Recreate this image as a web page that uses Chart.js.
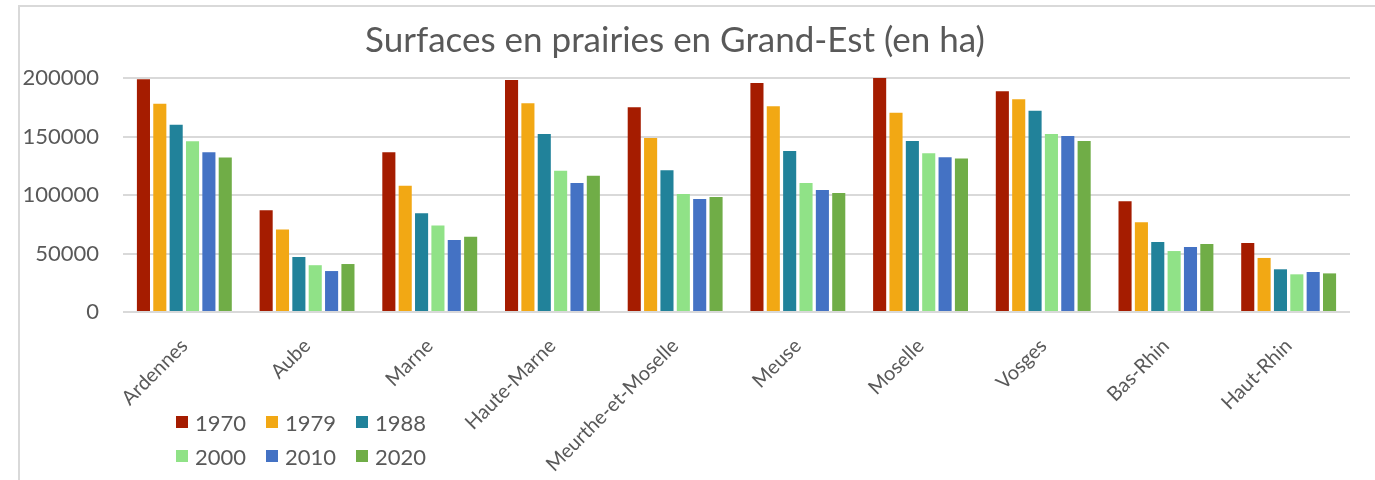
<!DOCTYPE html>
<html>
<head>
<meta charset="utf-8">
<script src="https://cdn.jsdelivr.net/npm/chart.js@4"></script>
<style>
  html, body { margin: 0; padding: 0; background: #fff; }
  #wrap { position: relative; width: 1375px; height: 480px; overflow: hidden; }
  #frame { position: absolute; left: 18px; top: 5px; width: 1400px; height: 500px;
           border-left: 2px solid #d9d9d9; border-top: 2px solid #d9d9d9; }
  #chart { position: absolute; left: 0; top: 0; }
  #legend { position: absolute; left: 176px; top: 410px; width: 280px;
            font-family: Lato, sans-serif; font-size: 22px; color: #595959; }
  .item { position: absolute; display: flex; align-items: center; height: 24px; }
  .item span.box { width: 12px; height: 12px; margin-right: 7px; }
</style>
</head>
<body>
<div id="wrap">
  <div id="frame"></div>
  <canvas id="chart" width="1375" height="480"></canvas>
  <div id="legend"></div>
</div>
<script>
// Départements
const departements = ['Ardennes', 'Aube', 'Marne', 'Haute-Marne', 'Meurthe-et-Moselle',
  'Meuse', 'Moselle', 'Vosges', 'Bas-Rhin', 'Haut-Rhin'];

// Surfaces en prairies (ha) par année
const annees = ['1970', '1979', '1988', '2000', '2010', '2020'];
const v1970 = [199000, 87000, 136500, 198300, 175000, 195700, 200000, 188600, 94600, 59000];
const v1979 = [178000, 70500, 108000, 178400, 148700, 175800, 170400, 181800, 76700, 46200];
const v1988 = [160000, 47000, 84500, 152100, 121100, 137600, 146200, 172100, 59800, 36500];
const v2000 = [146000, 40000, 74000, 120800, 100900, 110300, 135600, 152100, 52100, 32200];
const v2010 = [136500, 35000, 61500, 110300, 96600, 104300, 132200, 150400, 55600, 34200];
const v2020 = [132000, 41000, 64400, 116500, 98300, 101700, 131300, 146200, 58100, 33000];

const couleurs = ['#a51c00', '#f2a814', '#21829a', '#90e287', '#4472c4', '#70ad47'];
const series = [v1970, v1979, v1988, v2000, v2010, v2020];

const gris = '#595959';

const chart = new Chart(document.getElementById('chart'), {
  type: 'bar',
  data: {
    labels: departements,
    datasets: annees.map((a, i) => ({
      label: a,
      data: series[i],
      backgroundColor: couleurs[i],
      borderWidth: 0,
      categoryPercentage: 0.8,
      barPercentage: 0.8
    }))
  },
  options: {
    responsive: false,
    animation: false,
    layout: { padding: { top: 20, right: 25, left: 0, bottom: 0 } },
    plugins: {
      legend: { display: false },
      tooltip: { enabled: false },
      title: {
        display: true,
        text: 'Surfaces en prairies en Grand-Est (en ha)',
        color: gris,
        font: { family: 'Lato', size: 35, weight: 'normal' },
        padding: { top: 0, bottom: 16 }
      }
    },
    scales: {
      x: {
        grid: { display: false },
        border: { display: false },
        ticks: {
          color: gris,
          font: { family: 'Lato', size: 20 },
          minRotation: 45,
          maxRotation: 45,
          padding: 14
        },
        afterFit: s => { s.height = 168; }
      },
      y: {
        min: 0,
        max: 200000,
        border: { display: false },
        grid: { color: '#d9d9d9', lineWidth: 2, drawTicks: false },
        ticks: {
          stepSize: 50000,
          color: gris,
          font: { family: 'Lato', size: 22 },
          padding: 24,
          callback: v => String(v)
        },
        afterFit: s => { s.width = 123; }
      }
    }
  }
});

// Légende en deux lignes sous le graphique
const leg = document.getElementById('legend');
chart.data.datasets.forEach((ds, i) => {
  const it = document.createElement('div');
  it.className = 'item';
  it.style.left = (i % 3) * 90 + 'px';
  it.style.top = Math.floor(i / 3) * 34 + 'px';
  it.innerHTML = '<span class="box" style="background:' + ds.backgroundColor + '"></span>' + ds.label;
  leg.appendChild(it);
});
</script>
</body>
</html>
